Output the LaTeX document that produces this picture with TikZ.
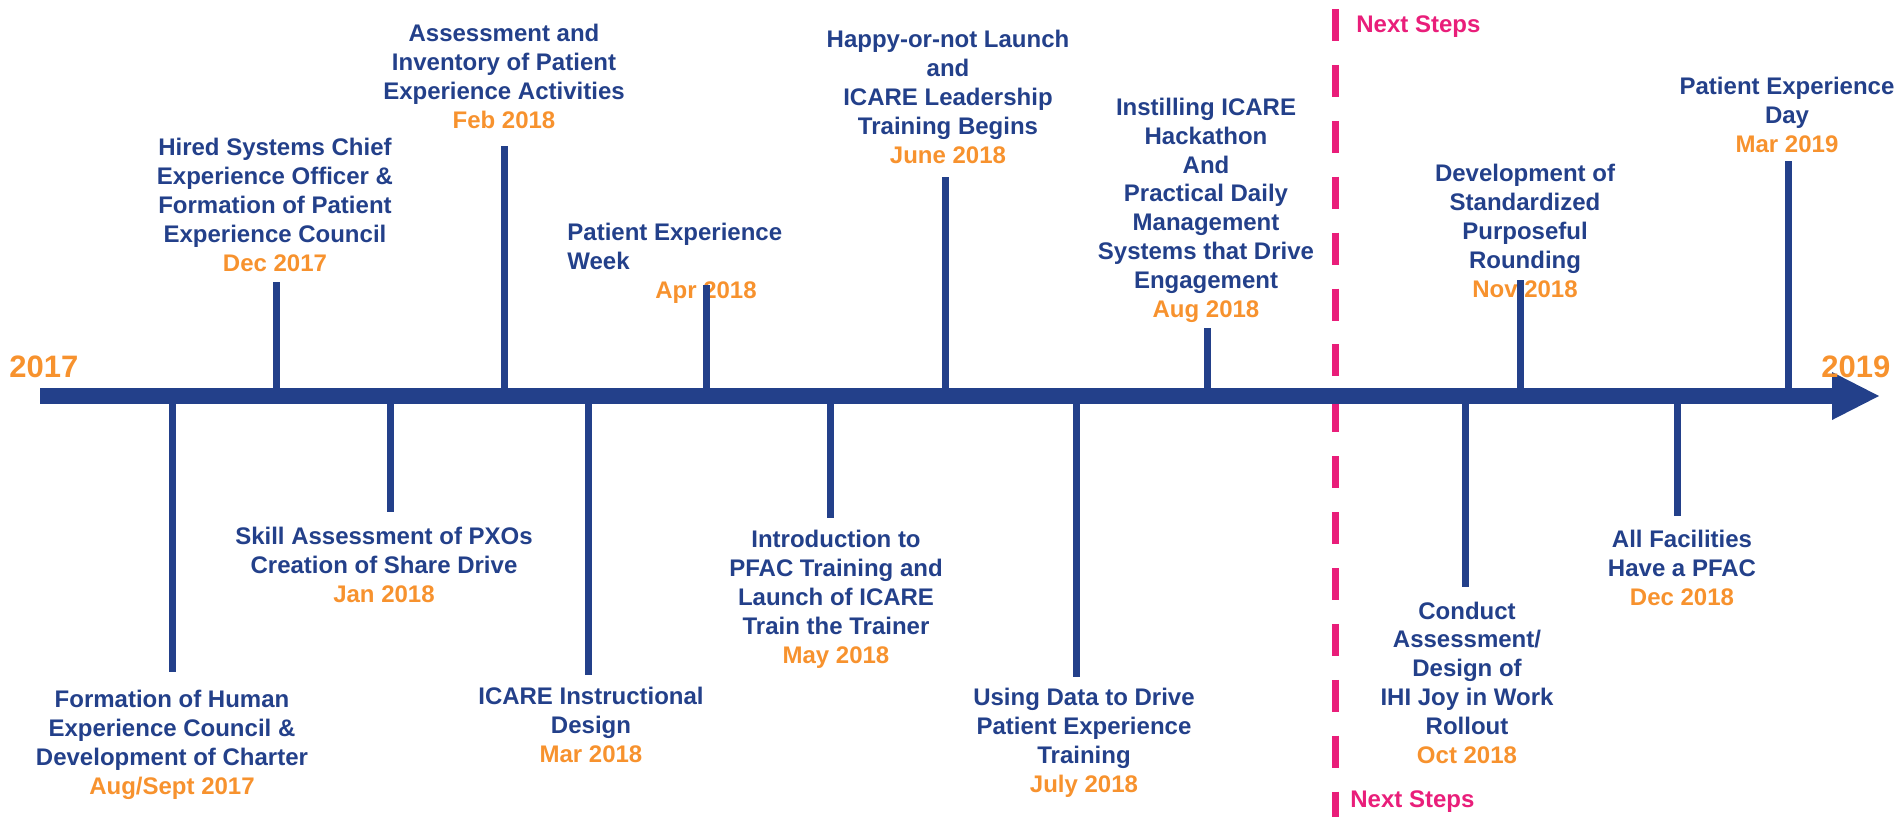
\documentclass[tikz,border=0pt]{standalone}
\usepackage{fontspec}
\setmainfont{Liberation Sans}
\definecolor{tlblue}{RGB}{35,64,138}
\definecolor{tlorange}{RGB}{247,146,46}
\definecolor{tlpink}{RGB}{233,30,122}
\newcommand{\dt}[1]{\\\textcolor{tlorange}{#1}}
\begin{document}
\begin{tikzpicture}[x=0.5pt,y=-0.5pt,
  lbl/.style={font=\bfseries\fontsize{12}{14.4}\selectfont, text=tlblue,
    align=center, anchor=base, inner sep=0pt},
  yearlbl/.style={font=\bfseries\fontsize{15.5}{18}\selectfont, text=tlorange,
    anchor=base west, inner sep=0pt},
  nextlbl/.style={font=\bfseries\fontsize{12}{14.4}\selectfont, text=tlpink,
    anchor=base west, inner sep=0pt},
  stem/.style={draw=tlblue, line width=3.5pt},
  axisline/.style={draw=tlblue, line width=8pt},
  divider/.style={draw=tlpink, line width=3.75pt, dash pattern=on 16pt off 11.95pt}]
\useasboundingbox (0,0) rectangle (1901,816);

% "next steps" divider
\coordinate (divtop) at (1335.5,9);
\coordinate (divbot) at (1335.5,830);
\draw[divider] (divtop) -- (divbot);
\node[nextlbl] (nexttop) at (1356,32) {Next Steps};
\node[nextlbl] (nextbot) at (1350,807) {Next Steps};

% main time axis with arrow head
\coordinate (axstart) at (40,396);
\coordinate (axend) at (1833,396);
\draw[axisline] (axstart) -- (axend);
\fill[tlblue] (1832,372) -- (1879,396) -- (1832,420) -- cycle;

% year labels
\node[yearlbl] (y2017) at (9,377) {2017};
\node[yearlbl] (y2019) at (1821,377) {2019};

% milestones above the axis
\node[lbl] (dec17) at (275,271) {Hired Systems Chief\\Experience Officer \&\\Formation of Patient\\Experience Council\dt{Dec 2017}};
\node[lbl] (feb18) at (504,128) {Assessment and\\Inventory of Patient\\Experience Activities\dt{Feb 2018}};
\node[lbl, align=left, anchor=base west] (apr18) at (567,269) {Patient Experience\\Week};
\node[lbl, text=tlorange] (apr18d) at (706,298) {Apr 2018};
\node[lbl] (jun18) at (948,163) {Happy-or-not Launch\\and\\ICARE Leadership\\Training Begins\dt{June 2018}};
\node[lbl] (aug18) at (1206,317) {Instilling ICARE\\Hackathon\\And\\Practical Daily\\Management\\Systems that Drive\\Engagement\dt{Aug 2018}};
\node[lbl] (nov18) at (1525,297) {Development of\\Standardized\\Purposeful\\Rounding\dt{Nov 2018}};
\node[lbl] (mar19) at (1787,152) {Patient Experience\\Day\dt{Mar 2019}};

% milestones below the axis
\node[lbl] (aug17) at (172,794) {Formation of Human\\Experience Council \&\\Development of Charter\dt{Aug/Sept 2017}};
\node[lbl] (jan18) at (384,602) {Skill Assessment of PXOs\\Creation of Share Drive\dt{Jan 2018}};
\node[lbl] (mar18) at (591,762) {ICARE Instructional\\Design\dt{Mar 2018}};
\node[lbl] (may18) at (836,663) {Introduction to\\PFAC Training and\\Launch of ICARE\\Train the Trainer\dt{May 2018}};
\node[lbl] (jul18) at (1084,792) {Using Data to Drive\\Patient Experience\\Training\dt{July 2018}};
\node[lbl] (oct18) at (1467,763) {Conduct\\Assessment/\\Design of\\IHI Joy in Work\\Rollout\dt{Oct 2018}};
\node[lbl] (dec18) at (1682,605) {All Facilities\\Have a PFAC\dt{Dec 2018}};

% stems from the axis to each milestone
\foreach \name/\x/\y in {sdec17/276/282, sfeb18/504/146, sapr18/706/285,
    sjun18/945/177, saug18/1207/328, snov18/1520/280, smar19/1788/161,
    saug17/172/672, sjan18/390/512, smar18/588/675, smay18/830/518,
    sjul18/1076/677, soct18/1465/587, sdec18/1677/516} {
  \coordinate (\name-a) at (\x,396);
  \coordinate (\name-b) at (\x,\y);
  \draw[stem] (\name-a) -- (\name-b);
}
\end{tikzpicture}
\end{document}
